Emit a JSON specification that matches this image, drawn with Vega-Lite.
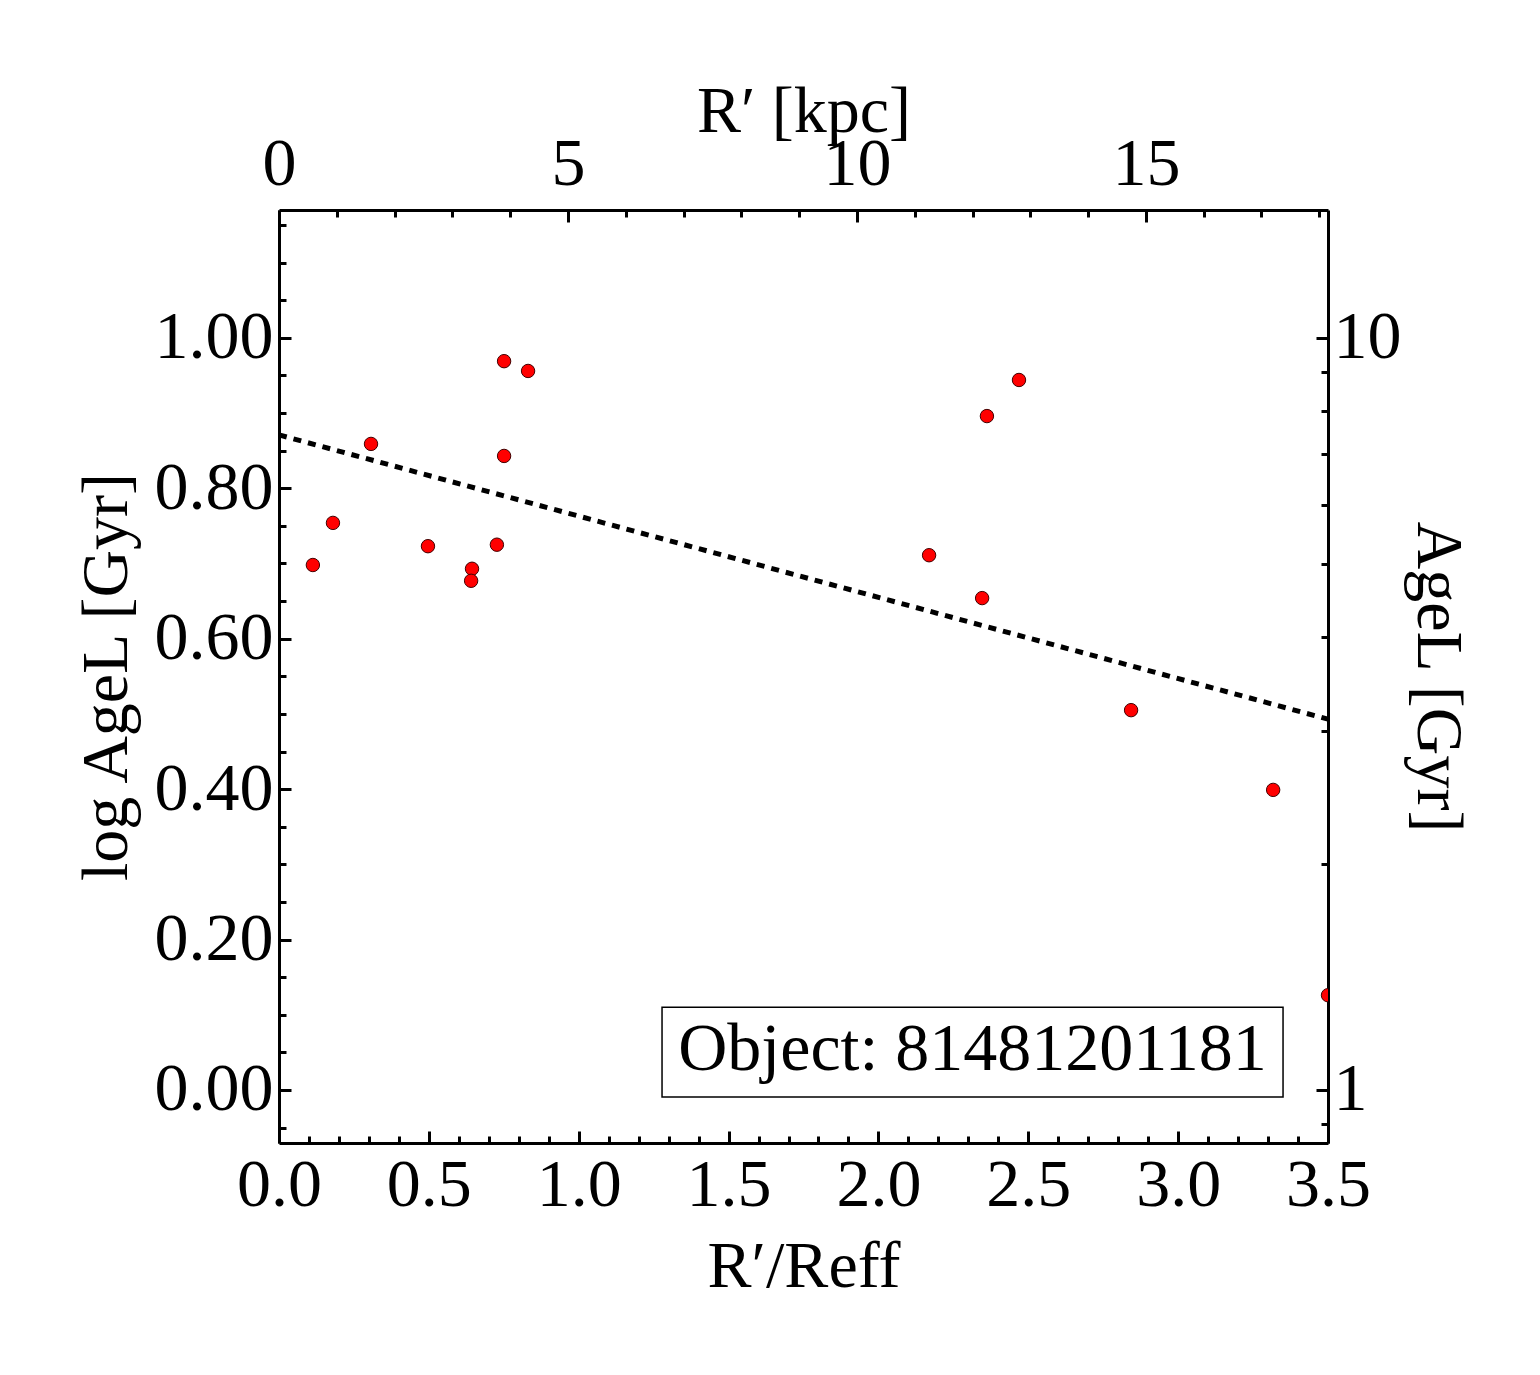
{
  "$schema": "https://vega.github.io/schema/vega-lite/v6.json",
  "width": 1049,
  "height": 933,
  "autosize": {"type": "none"},
  "padding": {"left": 279, "top": 210, "right": 212, "bottom": 232},
  "background": "white",
  "config": {
    "view": {"stroke": null},
    "axis": {
      "labelFont": "Liberation Serif",
      "titleFont": "Liberation Serif",
      "labelFontSize": 68,
      "titleFontSize": 66,
      "titleFontWeight": "normal",
      "labelColor": "black",
      "titleColor": "black",
      "domainColor": "black",
      "domainWidth": 3,
      "tickColor": "black",
      "tickWidth": 3,
      "grid": false,
      "labelFlush": false,
      "labelOverlap": false,
      "labelBound": false
    }
  },
  "resolve": {"axis": {"x": "independent", "y": "independent"}},
  "layer": [
    {
      "data": {
        "values": [
          {"r": 0.113, "logage": 0.698},
          {"r": 0.180, "logage": 0.754},
          {"r": 0.307, "logage": 0.859},
          {"r": 0.497, "logage": 0.723},
          {"r": 0.644, "logage": 0.693},
          {"r": 0.641, "logage": 0.677},
          {"r": 0.727, "logage": 0.725},
          {"r": 0.751, "logage": 0.969},
          {"r": 0.751, "logage": 0.843},
          {"r": 0.831, "logage": 0.956},
          {"r": 2.169, "logage": 0.711},
          {"r": 2.346, "logage": 0.654},
          {"r": 2.362, "logage": 0.896},
          {"r": 2.469, "logage": 0.944},
          {"r": 2.843, "logage": 0.505},
          {"r": 3.317, "logage": 0.399},
          {"r": 3.500, "logage": 0.126}
        ]
      },
      "mark": {"type": "circle", "size": 180, "color": "#ff0000", "opacity": 1, "stroke": "#400000", "strokeWidth": 1, "clip": true},
      "encoding": {
        "x": {
          "field": "r", "type": "quantitative",
          "scale": {"domain": [0, 3.5], "nice": false, "zero": false},
          "axis": {
            "orient": "bottom",
            "title": "R′/Reff",
            "values": [0,0.1,0.2,0.3,0.4,0.5,0.6,0.7,0.8,0.9,1,1.1,1.2,1.3,1.4,1.5,1.6,1.7,1.8,1.9,2,2.1,2.2,2.3,2.4,2.5,2.6,2.7,2.8,2.9,3,3.1,3.2,3.3,3.4,3.5],
            "labelExpr": "abs(datum.value*2 - round(datum.value*2)) < 0.01 ? format(datum.value, '.1f') : ''",
            "tickSize": {"condition": {"test": "abs(datum.value*2 - round(datum.value*2)) < 0.01", "value": -12}, "value": -7},
            "labelPadding": 20,
            "titlePadding": 10
          }
        },
        "y": {
          "field": "logage", "type": "quantitative",
          "scale": {"domain": [-0.0705, 1.17], "nice": false, "zero": false},
          "axis": {
            "orient": "left",
            "title": "log AgeL [Gyr]",
            "values": [-0.05,0,0.05,0.1,0.15,0.2,0.25,0.3,0.35,0.4,0.45,0.5,0.55,0.6,0.65,0.7,0.75,0.8,0.85,0.9,0.95,1,1.05,1.1,1.15],
            "labelExpr": "abs(datum.value*5 - round(datum.value*5)) < 0.01 ? format(datum.value, '.2f') : ''",
            "tickSize": {"condition": {"test": "abs(datum.value*5 - round(datum.value*5)) < 0.01", "value": -12}, "value": -7},
            "labelPadding": 18,
            "titlePadding": 14
          }
        }
      }
    },
    {
      "data": {
        "values": [
          {"r": 0, "logage": 0.871},
          {"r": 3.5, "logage": 0.493}
        ]
      },
      "mark": {"type": "line", "color": "black", "strokeWidth": 5, "strokeDash": [8, 7]},
      "encoding": {
        "x": {
          "field": "r", "type": "quantitative",
          "scale": {"domain": [0, 3.5], "nice": false, "zero": false},
          "axis": {
            "orient": "top",
            "title": "R′ [kpc]",
            "values": [0,0.19283,0.38565,0.57848,0.77131,0.96414,1.15696,1.34979,1.54262,1.73544,1.92827,2.1211,2.31392,2.50675,2.69958,2.8924,3.08523,3.27806,3.47088],
            "labelExpr": "round(datum.value*5.186) % 5 == 0 ? format(round(datum.value*5.186), 'd') : ''",
            "tickSize": {"condition": {"test": "round(datum.value*5.186) % 5 == 0", "value": -12}, "value": -7},
            "labelPadding": 24,
            "titlePadding": -20
          }
        },
        "y": {
          "field": "logage", "type": "quantitative",
          "scale": {"domain": [-0.0705, 1.17], "nice": false, "zero": false},
          "axis": {
            "orient": "right",
            "title": "AgeL [Gyr]",
            "titleAngle": 90,
            "values": [-0.04576,0,0.30103,0.47712,0.60206,0.69897,0.77815,0.84510,0.90309,0.95424,1],
            "labelExpr": "datum.value == 0 ? '1' : (datum.value == 1 ? '10' : '')",
            "tickSize": {"condition": {"test": "datum.value == 0 || datum.value == 1", "value": -12}, "value": -7},
            "labelPadding": 17,
            "titlePadding": 2
          }
        }
      }
    },
    {
      "data": {"values": [{"label": "Object: 81481201181"}]},
      "layer": [
        {
          "mark": {"type": "rect", "fill": "white", "stroke": "black", "strokeWidth": 1.5},
          "encoding": {
            "x": {"datum": 1.278, "type": "quantitative", "scale": {"domain": [0, 3.5], "nice": false, "zero": false}, "axis": null},
            "x2": {"datum": 3.350},
            "y": {"datum": -0.0093, "type": "quantitative", "scale": {"domain": [-0.0705, 1.17], "nice": false, "zero": false}, "axis": null},
            "y2": {"datum": 0.110}
          }
        },
        {
          "mark": {"type": "text", "font": "Liberation Serif", "fontSize": 68, "color": "black", "baseline": "middle", "align": "center"},
          "encoding": {
            "x": {"datum": 2.314, "type": "quantitative", "scale": {"domain": [0, 3.5], "nice": false, "zero": false}, "axis": null},
            "y": {"datum": 0.053, "type": "quantitative", "scale": {"domain": [-0.0705, 1.17], "nice": false, "zero": false}, "axis": null},
            "text": {"field": "label", "type": "nominal"}
          }
        }
      ]
    }
  ]
}
